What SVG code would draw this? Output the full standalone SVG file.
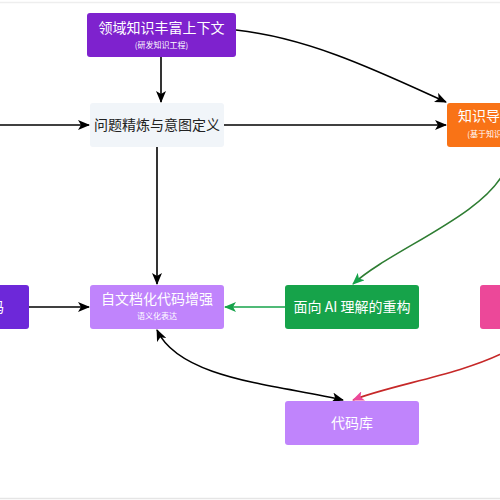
<svg xmlns="http://www.w3.org/2000/svg" width="500" height="500" viewBox="0 0 500 500">
<defs>
<style>
.n{stroke:none}
.t{font-family:"Noto Sans CJK SC","Noto Sans",sans-serif;fill:#fff;text-anchor:middle}
.big{font-size:14px}
.sm{font-size:8px}
.e{fill:none;stroke-width:1.6}
</style>
<marker id="ab" viewBox="0 0 12 10" refX="11" refY="5" markerWidth="12" markerHeight="10" markerUnits="userSpaceOnUse" orient="auto-start-reverse"><path d="M0,0 L12,5 L0,10 L3,5 z" fill="#000"/></marker>
<marker id="ag" viewBox="0 0 12 10" refX="11" refY="5" markerWidth="12" markerHeight="10" markerUnits="userSpaceOnUse" orient="auto"><path d="M0,0 L12,5 L0,10 L3,5 z" fill="#16a34a"/></marker>
<marker id="ap" viewBox="0 0 12 10" refX="11" refY="5" markerWidth="12" markerHeight="10" markerUnits="userSpaceOnUse" orient="auto"><path d="M0,0 L12,5 L0,10 L3,5 z" fill="#ec4899"/></marker>
</defs>
<rect x="0" y="0" width="500" height="500" fill="#fff"/>
<line x1="0" y1="2.5" x2="500" y2="2.5" stroke="#eeeeee" stroke-width="1.5"/>
<line x1="0" y1="498.5" x2="500" y2="498.5" stroke="#e5e5e5" stroke-width="1.5"/>
<g id="connectors">
<path class="e" stroke="#000" d="M161,57 L161,102" marker-end="url(#ab)"/>
<path class="e" stroke="#000" d="M0,125 L89,125" marker-end="url(#ab)"/>
<path class="e" stroke="#000" d="M224,125 L446,125" marker-end="url(#ab)"/>
<path class="e" stroke="#000" d="M236,30 C310,38 380,72 446,102" marker-end="url(#ab)"/>
<path class="e" stroke="#000" d="M157,147 L157,284" marker-end="url(#ab)"/>
<path class="e" stroke="#000" d="M29,307 L89,307" marker-end="url(#ab)"/>
<path class="e" stroke="#16a34a" d="M285,307 L225,307" marker-end="url(#ag)"/>
<path class="e" stroke="#2e7d32" d="M505,170 C485,215 390,250 353,284" marker-end="url(#ag)"/>
<path class="e" stroke="#c62828" d="M505,352 C460,375 390,385 353,400" marker-end="url(#ap)"/>
<path class="e" stroke="#000" d="M157,330 C180,380 280,385 343,400" marker-start="url(#ab)" marker-end="url(#ab)"/>
</g>
<g id="n-domain">
<rect x="87" y="13" width="149" height="44" rx="3" fill="#7e22ce"/>
<text class="t big" x="161.5" y="33">领域知识丰富上下文</text>
<text class="t sm" x="161.5" y="48">(研发知识工程)</text>
</g>
<g id="n-refine">
<rect x="90" y="103" width="134" height="44" rx="3" fill="#f1f5f9"/>
<text class="t big" x="157" y="130" style="fill:#222">问题精炼与意图定义</text>
</g>
<g id="n-know">
<rect x="447" y="103" width="134" height="44" rx="3" fill="#f97316"/>
<text class="t big" x="514" y="121">知识导向智能检索</text>
<text class="t sm" x="514" y="137">(基于知识图谱的语义检索)</text>
</g>
<g id="n-legacy">
<rect x="-105" y="285" width="134" height="44" rx="3" fill="#6d28d9"/>
<text class="t big" x="-38" y="312">遗留系统代码</text>
</g>
<g id="n-selfdoc">
<rect x="90" y="285" width="134" height="44" rx="3" fill="#c084fc"/>
<text class="t big" x="157" y="304">自文档化代码增强</text>
<text class="t sm" x="157" y="319">语义化表达</text>
</g>
<g id="n-refactor">
<rect x="285" y="285" width="134" height="44" rx="3" fill="#16a34a"/>
<text class="t big" x="352" y="312">面向 AI 理解的重构</text>
</g>
<g id="n-pink">
<rect x="480" y="285" width="134" height="44" rx="3" fill="#ec4899"/>
</g>
<g id="n-repo">
<rect x="285" y="401" width="134" height="44" rx="3" fill="#c084fc"/>
<text class="t big" x="352" y="428">代码库</text>
</g>
</svg>
